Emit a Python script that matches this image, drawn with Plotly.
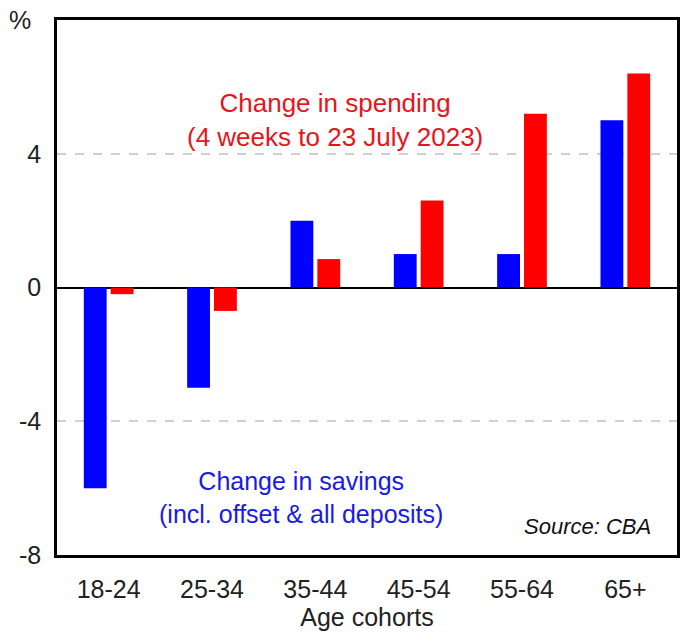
import plotly.graph_objects as go

categories = ["18-24", "25-34", "35-44", "45-54", "55-64", "65+"]
savings = [-6.0, -3.0, 2.0, 1.0, 1.0, 5.0]
spending = [-0.2, -0.7, 0.85, 2.6, 5.2, 6.4]
y_ticks = [-8, -4, 0, 4]

FONT = "Liberation Sans, Arial, sans-serif"

fig = go.Figure()
fig.add_trace(go.Bar(x=categories, y=savings, marker=dict(color="#0000FF", line=dict(width=0)), name="Savings"))
fig.add_trace(go.Bar(x=categories, y=spending, marker=dict(color="#FF0000", line=dict(width=0)), name="Spending"))

fig.update_layout(
    width=685, height=635,
    margin=dict(l=57, r=5, t=20, b=80),
    paper_bgcolor="white", plot_bgcolor="white",
    barmode="group", bargap=0.48, bargroupgap=0.15,
    showlegend=False,
    font=dict(family=FONT, size=25, color="#222222"),
    xaxis=dict(
        showline=True, linecolor="black", linewidth=2.5, mirror=True,
        ticks="", tickfont=dict(size=25), showgrid=False, ticklabelstandoff=10,
        title=dict(text="Age cohorts", font=dict(size=25), standoff=4),
    ),
    yaxis=dict(
        range=[-8, 8], tickvals=y_ticks, ticktext=[str(v) for v in y_ticks],
        showline=True, linecolor="black", linewidth=2.5, mirror=True,
        ticks="", showgrid=True, gridcolor="#D0D0D0", griddash="dash", gridwidth=1.5,
        zeroline=True, zerolinecolor="black", zerolinewidth=1.5,
        tickfont=dict(size=25), ticklabelstandoff=8,
    ),
    annotations=[
        dict(text="%", xref="paper", yref="paper", x=-0.08, y=1.0, xanchor="left", yanchor="middle",
             showarrow=False, font=dict(size=25, color="#222222")),
        dict(text="Change in spending<br>(4 weeks to 23 July 2023)", xref="paper", yref="y",
             x=0.449, y=5.0, xanchor="center", yanchor="middle", showarrow=False,
             font=dict(size=26, color="#E8141B")),
        dict(text="Change in savings<br>(incl. offset & all deposits)", xref="paper", yref="y",
             x=0.393, y=-6.27, xanchor="center", yanchor="middle", showarrow=False,
             font=dict(size=25, color="#1A1AE6")),
        dict(text="<i>Source: CBA</i>", xref="paper", yref="y", x=0.962, y=-7.16,
             xanchor="right", yanchor="middle", showarrow=False,
             font=dict(size=22, color="#111111")),
    ],
)

fig.write_html("out.html")
